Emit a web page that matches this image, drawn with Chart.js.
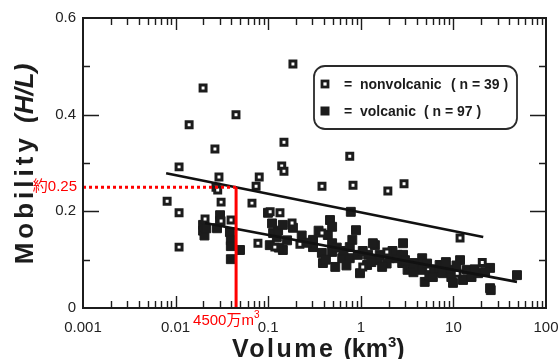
<!DOCTYPE html>
<html>
<head>
<meta charset="utf-8">
<script src="https://cdn.jsdelivr.net/npm/chart.js@4.4.0/dist/chart.umd.min.js"></script>
<style>
html,body{margin:0;padding:0;background:#fff;}
#mobility{display:block;}
</style>
</head>
<body>
<canvas id="mobility" width="558" height="359"></canvas>
<script>
// values
var nonvolcanicVolume = [0.185,0.0198,0.0449,0.0140,0.0266,0.148,0.0109,0.140,0.148,0.0294,
    0.080,0.0273,0.074,0.0081,0.031,0.0668,0.0109,0.0208,0.031,0.0397,
    0.0109,0.0775,0.134,0.105,0.381,0.824,1.96,2.93,0.76,0.181,
    0.381,0.22,1.91,1.05,11.8,20.5,11.0,0.0285,0.118];
var nonvolcanicMobility = [0.505,0.455,0.400,0.379,0.329,0.343,0.292,0.294,0.283,0.271,
    0.271,0.250,0.252,0.221,0.219,0.217,0.197,0.184,0.180,0.182,
    0.126,0.134,0.197,0.199,0.252,0.254,0.242,0.257,0.314,0.176,
    0.155,0.132,0.116,0.085,0.145,0.094,0.072,0.244,0.126];

var volcanicVolume = [0.0198,0.0198,0.0205,0.0215,0.0302,0.0302,0.0386,0.0395,0.0395,0.0496,0.0395,
    0.0995,0.104,0.124,0.113,0.128,0.144,0.144,0.185,0.16,0.13,
    0.305,0.305,0.38,0.39,0.44,0.465,0.49,0.49,0.49,0.53,
    0.63,0.76,0.76,0.81,0.887,0.78,0.93,0.98,1.20,1.42,
    1.50,1.17,1.35,1.6,2.05,2.45,2.5,2.86,2.86,2.8,
    3.2,3.4,3.7,3.7,4.3,4.6,4.6,4.9,5.5,6.2,
    7.1,7.1,7.7,9.2,9.5,9.9,11.8,10.8,12.7,14.0,
    15.7,18.5,17,24.9,22,25.3,24.9,48.6,
    0.23,0.26,0.35,0.55,0.65,1.05,1.3,1.9,2.2,3.0,
    5.2,6.0,8.3,0.11,0.42,0.7,1.7,0.028];
var volcanicMobility = [0.172,0.160,0.150,0.165,0.192,0.180,0.157,0.140,0.128,0.120,0.101,
    0.197,0.130,0.147,0.155,0.160,0.172,0.120,0.166,0.140,0.125,
    0.141,0.126,0.114,0.093,0.151,0.182,0.168,0.134,0.116,0.085,
    0.103,0.103,0.126,0.141,0.161,0.199,0.110,0.072,0.110,0.130,
    0.099,0.089,0.134,0.110,0.103,0.103,0.110,0.134,0.110,0.093,
    0.079,0.089,0.093,0.074,0.085,0.103,0.079,0.054,0.068,0.080,
    0.089,0.074,0.072,0.079,0.064,0.052,0.099,0.088,0.058,0.079,
    0.064,0.072,0.080,0.083,0.075,0.037,0.041,0.068,
    0.150,0.135,0.160,0.125,0.118,0.118,0.095,0.092,0.118,0.099,
    0.092,0.064,0.095,0.175,0.100,0.088,0.085,0.165];

// regression lines (end points)
var nonvolcanicFitVolume = [0.0079, 21];
var nonvolcanicFitMobility = [0.279, 0.147];
var volcanicFitVolume = [0.0208, 48.6];
var volcanicFitMobility = [0.176, 0.054];

// red reading: 4500万m3 -> 約0.25
var markVolume = [0.001, 0.045, 0.045];
var markMobility = [0.25, 0.25, 0];

var xTickValues = [0.001, 0.01, 0.1, 1, 10, 100];
var xTickLabels = ["0.001", "0.01", "0.1", "1", "10", "100"];
var yTickValues = [0, 0.2, 0.4, 0.6];
var yTickLabels = ["0", "0.2", "0.4", "0.6"];

var FONT = "'Liberation Sans', Arial, Helvetica, sans-serif";
var INK = "#1c1c1c";

function toPoints(xs, ys) {
    var pts = [];
    for (var i = 0; i < Math.min(xs.length, ys.length); i++) pts.push({x: xs[i], y: ys[i]});
    return pts;
}

var decor = {
    id: 'decor',
    afterDatasetsDraw: function(chart) {
        var ctx = chart.ctx, a = chart.chartArea;
        var xs = chart.scales.x, ys = chart.scales.y;
        ctx.save();
        ctx.strokeStyle = INK;
        ctx.lineWidth = 1.4;
        ctx.beginPath();
        // log ticks on bottom and top, pointing inward
        for (var d = -3; d < 2; d++) {
            for (var m = 1; m < 10; m++) {
                var v = m * Math.pow(10, d);
                if (m == 1 && d == -3) continue;
                var px = Math.round(xs.getPixelForValue(v)) + 0.5;
                var len = (m == 1) ? 12 : 7;
                ctx.moveTo(px, a.bottom); ctx.lineTo(px, a.bottom - len);
                ctx.moveTo(px, a.top); ctx.lineTo(px, a.top + len);
            }
        }
        // y ticks left and right
        for (var k = 1; k < 6; k++) {
            var py = Math.round(ys.getPixelForValue(k * 0.1)) + 0.5;
            var l2 = (k % 2 == 0) ? 16 : 7;
            ctx.moveTo(a.left, py); ctx.lineTo(a.left + l2, py);
            ctx.moveTo(a.right, py); ctx.lineTo(a.right - l2, py);
        }
        ctx.stroke();
        ctx.lineWidth = 2;
        ctx.strokeRect(a.left, a.top, a.right - a.left, a.bottom - a.top);
        ctx.restore();
    },
    afterDraw: function(chart) {
        var ctx = chart.ctx, a = chart.chartArea;
        var xs = chart.scales.x, ys = chart.scales.y;
        ctx.save();

        // legend box
        ctx.strokeStyle = "#2a2a2a";
        ctx.lineWidth = 1.8;
        ctx.beginPath();
        ctx.roundRect(314, 66, 203, 63, 11);
        ctx.stroke();
        ctx.fillStyle = "#fff";
        ctx.strokeStyle = INK;
        ctx.lineWidth = 2.8;
        ctx.fillRect(321, 80, 8, 8);
        ctx.strokeRect(322, 81, 6, 6);
        ctx.fillStyle = INK;
        ctx.fillRect(320.5, 106.5, 9, 9);
        ctx.font = "bold 14px " + FONT;
        ctx.textBaseline = "alphabetic";
        ctx.textAlign = "left";
        ctx.fillText("=  nonvolcanic", 344, 89);
        ctx.fillText("( n = 39 )", 451, 89);
        ctx.fillText("=  volcanic", 344, 116);
        ctx.fillText("( n = 97 )", 424, 116);

        // y title
        ctx.save();
        ctx.translate(33, 164);
        ctx.rotate(-Math.PI / 2);
        ctx.font = "bold 26px " + FONT;
        ctx.letterSpacing = "4px";
        var w1 = ctx.measureText("Mobility ").width;
        ctx.font = "italic bold 26px " + FONT;
        ctx.letterSpacing = "0px";
        var w2 = ctx.measureText("(H/L)").width;
        var sx = -(w1 + w2) / 2;
        ctx.font = "bold 26px " + FONT;
        ctx.letterSpacing = "4px";
        ctx.fillText("Mobility ", sx, 0);
        ctx.font = "italic bold 26px " + FONT;
        ctx.letterSpacing = "0px";
        ctx.fillText("(H/L)", sx + w1, 0);
        ctx.restore();

        // x title
        var tx = 232, by = 357;
        ctx.font = "bold 25px " + FONT;
        ctx.letterSpacing = "2.5px";
        ctx.fillText("Volume", tx, by);
        tx += ctx.measureText("Volume").width + 8;
        ctx.letterSpacing = "0px";
        ctx.fillText("(km", tx, by);
        tx += ctx.measureText("(km").width;
        ctx.font = "bold 15px " + FONT;
        ctx.fillText("3", tx, by - 10);
        tx += ctx.measureText("3").width;
        ctx.font = "bold 25px " + FONT;
        ctx.fillText(")", tx, by);

        // red labels
        ctx.fillStyle = "#ff0000";
        ctx.font = "15px " + FONT + ", 'Noto Sans CJK JP'";
        ctx.textAlign = "right";
        ctx.textBaseline = "middle";
        ctx.fillText("約0.25", a.left - 6, ys.getPixelForValue(markMobility[0]));
        ctx.textAlign = "left";
        ctx.textBaseline = "alphabetic";
        var rx = xs.getPixelForValue(markVolume[1]) - 43;
        ctx.fillText("4500万m", rx, 325);
        rx += ctx.measureText("4500万m").width;
        ctx.font = "10px " + FONT;
        ctx.fillText("3", rx, 318);
        ctx.restore();
    }
};

new Chart(document.getElementById("mobility"), {
    type: 'scatter',
    data: {
        datasets: [
            {
                label: "mark-h",
                type: 'line',
                data: toPoints(markVolume.slice(0, 2), markMobility.slice(0, 2)),
                borderColor: "#ff0000",
                borderWidth: 3,
                borderDash: [3, 3],
                pointRadius: 0,
                fill: false,
                order: 1
            },
            {
                label: "mark-v",
                type: 'line',
                data: toPoints(markVolume.slice(1), markMobility.slice(1)),
                borderColor: "#ff0000",
                borderWidth: 3,
                pointRadius: 0,
                fill: false,
                order: 1
            },
            {
                label: "fit nonvolcanic",
                type: 'line',
                data: toPoints(nonvolcanicFitVolume, nonvolcanicFitMobility),
                borderColor: "#111",
                borderWidth: 2.6,
                pointRadius: 0,
                fill: false,
                order: 2
            },
            {
                label: "fit volcanic",
                type: 'line',
                data: toPoints(volcanicFitVolume, volcanicFitMobility),
                borderColor: "#111",
                borderWidth: 2.6,
                pointRadius: 0,
                fill: false,
                order: 2
            },
            {
                label: "nonvolcanic",
                data: toPoints(nonvolcanicVolume, nonvolcanicMobility),
                pointStyle: 'rect',
                pointRadius: 4.2,
                borderWidth: 3,
                borderColor: INK,
                backgroundColor: "#fff",
                order: 3
            },
            {
                label: "volcanic",
                data: toPoints(volcanicVolume, volcanicMobility),
                pointStyle: 'rect',
                pointRadius: 6.3,
                borderWidth: 1,
                borderColor: INK,
                backgroundColor: INK,
                order: 4
            }
        ]
    },
    options: {
        responsive: false,
        animation: false,
        devicePixelRatio: 1,
        layout: {padding: {top: 18, right: 12, left: 0, bottom: 0}},
        plugins: {legend: {display: false}, tooltip: {enabled: false}},
        scales: {
            x: {
                type: 'logarithmic',
                position: 'bottom',
                min: 0.001,
                max: 100,
                grid: {display: false, drawTicks: false},
                border: {display: false},
                afterBuildTicks: function(scale) {
                    scale.ticks = xTickValues.map(function(v) { return {value: v}; });
                },
                afterFit: function(scale) {
                    scale.height = 51;
                    scale.paddingLeft = 0;
                    scale.paddingRight = 0;
                },
                ticks: {
                    autoSkip: false,
                    maxRotation: 0,
                    padding: 11,
                    color: "#222",
                    font: {family: FONT, size: 15},
                    callback: function(v, i) { return xTickLabels[i]; }
                }
            },
            y: {
                min: 0,
                max: 0.6,
                grid: {display: false, drawTicks: false},
                border: {display: false},
                afterBuildTicks: function(scale) {
                    scale.ticks = yTickValues.map(function(v) { return {value: v}; });
                },
                afterFit: function(scale) {
                    scale.width = 83;
                },
                ticks: {
                    padding: 7,
                    color: "#222",
                    font: {family: FONT, size: 15},
                    callback: function(v, i) { return yTickLabels[i]; }
                }
            }
        }
    },
    plugins: [decor]
});
</script>
</body>
</html>
